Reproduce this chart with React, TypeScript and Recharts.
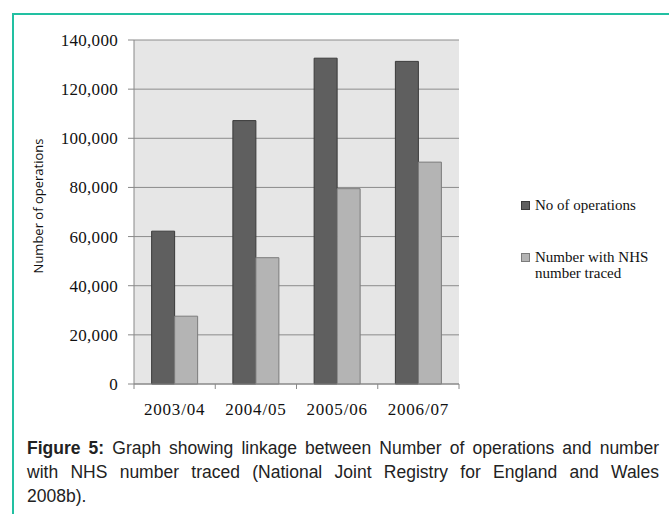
import React from "react";
import { BarChart, Bar, XAxis, YAxis, CartesianGrid } from "recharts";

// values
const years = ["2003/04", "2004/05", "2005/06", "2006/07"];
const operations = [62200, 107200, 132600, 131300];
const nhsTraced = [27600, 51400, 79500, 90300];
const yTicks = [0, 20000, 40000, 60000, 80000, 100000, 120000, 140000];

const data = years.map((year, i) => ({
  year,
  operations: operations[i],
  nhsTraced: nhsTraced[i],
}));

const DARK = "#5f5f5f";
const DARK_EDGE = "#3a3a3a";
const LIGHT = "#b4b4b4";
const LIGHT_EDGE = "#7c7c7c";
const TEAL = "#22c0a2";

const CHART_W = 480;
const CHART_H = 420;
const Y_AXIS_W = 134;
const RIGHT = 21;
const BAND = (CHART_W - Y_AXIS_W - RIGHT) / years.length;

const serif = "'Liberation Serif', 'Times New Roman', serif";

function YearTick(props: any) {
  const { x, y, payload, index } = props;
  const last = index === years.length - 1;
  return (
    <g>
      <line x1={x - BAND / 2} x2={x - BAND / 2} y1={y} y2={y + 5} stroke="#888" />
      {last && <line x1={x + BAND / 2} x2={x + BAND / 2} y1={y} y2={y + 5} stroke="#888" />}
      <text
        x={x}
        y={y + 31}
        textAnchor="middle"
        fontFamily={serif}
        fontSize={17}
        letterSpacing={0.8}
        fill="#111"
      >
        {payload.value}
      </text>
    </g>
  );
}

function AxisTitle(props: any) {
  const { viewBox } = props;
  const cy = viewBox.y + viewBox.height / 2 - 6;
  return (
    <text
      x={38}
      y={cy}
      transform={`rotate(-90 38 ${cy})`}
      textAnchor="middle"
      dominantBaseline="central"
      fontFamily="'Open Sans', sans-serif"
      fontSize={13}
      fill="#111"
    >
      Number of operations
    </text>
  );
}

export default function App() {
  return (
    <div
      style={{
        position: "absolute",
        left: 0,
        top: 0,
        width: 669,
        height: 514,
        overflow: "hidden",
        background: "#fff",
      }}
    >
      <div
        style={{
          position: "absolute",
          left: 12,
          top: 13,
          width: 700,
          height: 600,
          borderLeft: `2px solid ${TEAL}`,
          borderTop: `2px solid ${TEAL}`,
        }}
      />

      <div style={{ position: "absolute", left: 0, top: 0 }}>
        <BarChart
          width={CHART_W}
          height={CHART_H}
          data={data}
          margin={{ top: 40, right: RIGHT, left: 0, bottom: 0 }}
          barCategoryGap="21.7%"
          barGap={0}
        >
          <CartesianGrid vertical={false} stroke="#8c8c8c" fill="#e6e6e6" />
          <XAxis
            dataKey="year"
            height={36}
            stroke="#888"
            tickLine={false}
            tickSize={0}
            tickMargin={0}
            tick={<YearTick />}
            interval={0}
          />
          <YAxis
            width={Y_AXIS_W}
            domain={[0, 140000]}
            ticks={yTicks}
            interval={0}
            stroke="#888"
            tickSize={6}
            tickMargin={10}
            tick={{ fontFamily: serif, fontSize: 17, fill: "#111", letterSpacing: 0.3 }}
            tickFormatter={(v: number) => v.toLocaleString("en-US")}
            label={<AxisTitle />}
          />
          <Bar
            dataKey="operations"
            fill={DARK}
            stroke={DARK_EDGE}
            strokeWidth={1}
            isAnimationActive={false}
          />
          <Bar
            dataKey="nhsTraced"
            fill={LIGHT}
            stroke={LIGHT_EDGE}
            strokeWidth={1}
            isAnimationActive={false}
          />
        </BarChart>
      </div>

      <div
        style={{
          position: "absolute",
          left: 521,
          top: 197,
          fontFamily: serif,
          fontSize: 15,
          color: "#111",
          lineHeight: "16px",
        }}
      >
        <div style={{ display: "flex", alignItems: "flex-start" }}>
          <span
            style={{
              width: 7,
              height: 7,
              marginTop: 4,
              marginRight: 5,
              background: DARK,
              border: `1px solid ${DARK_EDGE}`,
            }}
          />
          <span>No of operations</span>
        </div>
        <div style={{ display: "flex", alignItems: "flex-start", marginTop: 36 }}>
          <span
            style={{
              width: 7,
              height: 7,
              marginTop: 4,
              marginRight: 5,
              background: LIGHT,
              border: `1px solid ${LIGHT_EDGE}`,
            }}
          />
          <span>
            Number with NHS
            <br />
            number traced
          </span>
        </div>
      </div>

      <div
        style={{
          position: "absolute",
          left: 27,
          top: 436,
          width: 632,
          fontFamily: "'Liberation Sans', Arial, sans-serif",
          fontSize: 17.5,
          lineHeight: "24px",
          color: "#222",
        }}
      >
        <div style={{ textAlign: "justify", textAlignLast: "justify", whiteSpace: "nowrap" }}>
          <b>Figure 5:</b> Graph showing linkage between Number of operations and number
        </div>
        <div style={{ textAlign: "justify", textAlignLast: "justify" }}>
          with NHS number traced (National Joint Registry for England and Wales
        </div>
        <div>2008b).</div>
      </div>
    </div>
  );
}
